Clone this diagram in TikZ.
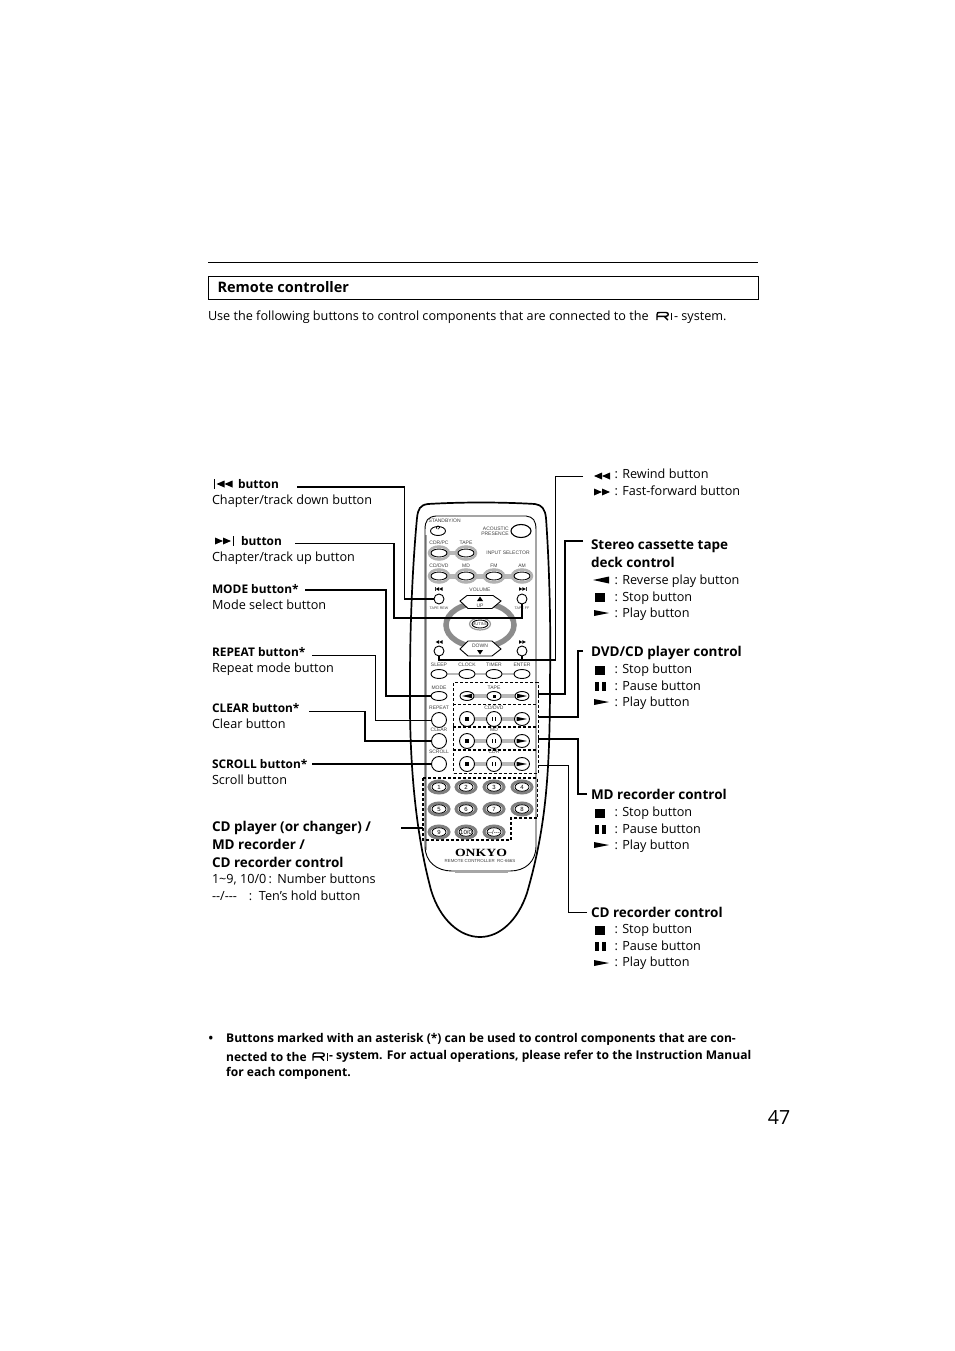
\documentclass[tikz,border=0pt]{standalone}
\usepackage{fontspec}
\setmainfont{Open Sans}
\newfontfamily\ctlfont{Liberation Sans}
\newfontfamily\logofont{Liberation Serif}
\usetikzlibrary{calc,shapes.geometric}
\tikzset{
 conThick/.style={line width=1.7pt},
 conThin/.style={line width=1pt},
 lbl/.style={anchor=north west,inner sep=0pt,outer sep=0pt,align=left,font=\fontsize{12.65}{16.2}\selectfont},
 head/.style={anchor=north west,inner sep=0pt,outer sep=0pt,align=left,font=\fontsize{13.5}{18}\selectfont\bfseries},
 notetxt/.style={anchor=west,inner sep=0pt,font=\fontsize{12.05}{16}\selectfont\bfseries},
 tiny/.style={inner sep=0pt,outer sep=0pt,align=center,font=\ctlfont\fontsize{5}{5.2}\selectfont,text=black!75},
 oval/.style={draw=black,line width=.9pt,fill=white,ellipse,inner sep=0pt,minimum width=#1},
 bar/.style={line width=3.5pt,black!28},
 dashbox/.style={draw=black,line width=1.4pt,dash pattern=on 3pt off 2pt},
}
\newcommand{\lb}[1]{{\fontsize{11.9}{16.2}\selectfont\bfseries #1}}
\newcommand{\playsym}[2]{\fill (#1-7,#2-3) -- (#1+8,#2) -- (#1-7,#2+3) -- cycle;}
\newcommand{\revsym}[2]{\fill (#1+8,#2-3.5) -- (#1-8,#2) -- (#1+8,#2+3.5) -- cycle;}
\newcommand{\stopsym}[2]{\fill (#1-5,#2-4.5) rectangle (#1+5,#2+4.5);}
\newcommand{\pausesym}[2]{\fill (#1-5.5,#2-4.5) rectangle (#1-1.5,#2+4.5);\fill (#1+1.5,#2-4.5) rectangle (#1+5.5,#2+4.5);}
\newcommand{\rewsym}[2]{\fill (#1,#2-3.5) -- (#1-8,#2) -- (#1,#2+3.5) -- cycle;\fill (#1+8,#2-3.5) -- (#1,#2) -- (#1+8,#2+3.5) -- cycle;}
\newcommand{\ffsym}[2]{\fill (#1-8,#2-3.5) -- (#1,#2) -- (#1-8,#2+3.5) -- cycle;\fill (#1,#2-3.5) -- (#1+8,#2) -- (#1,#2+3.5) -- cycle;}
\newcommand{\rilogo}[2]{\draw[line width=1.4pt] (#1,#2+4) -- (#1,#2-1.5) .. controls (#1,#2-3.5) and (#1+1,#2-3.5) .. (#1+3,#2-3.5) -- (#1+9,#2-3.5) .. controls (#1+12,#2-3.5) and (#1+12,#2+.3) .. (#1+9,#2+.3) -- (#1,#2+.3) (#1+7,#2+.3) -- (#1+11,#2+4);\draw[line width=1pt] (#1+14.5,#2-3.5) -- (#1+14.5,#2+4);}
\newcommand{\tri}[4]{\fill (#1,#2-#4) -- (#1+#3,#2) -- (#1,#2+#4) -- cycle;}
\begin{document}
\begin{tikzpicture}[x=1pt,y=-1pt]
\useasboundingbox (0,0) rectangle (954,1351);
\fill[white] (0,0) rectangle (954,1351);
% header
\coordinate (ruleL) at (208,262); \coordinate (ruleR) at (758,262);
\draw[line width=.9pt] (ruleL) -- (ruleR);
\node[draw,line width=.9pt,minimum width=549.8pt,minimum height=23pt,anchor=north west,inner sep=0pt] (titlebox) at (208,276) {};
\node[head,font=\fontsize{14.5}{18}\selectfont\bfseries,anchor=west] (title) at (217.5,287) {Remote controller};
\node[lbl,anchor=west] (intro) at (208,317.3) {Use the following buttons to control components that are connected to the};
\rilogo{657}{316}
\node[lbl,anchor=west] (introb) at (674,317.3) {\vphantom{Ug}- system.};

% remote body
\draw[line width=1.7pt,fill=white] (417,518)
 .. controls (418,509) and (420,505) .. (428,504)
 .. controls (462,502) and (500,502) .. (535,504)
 .. controls (542,505) and (545,509) .. (546,518)
 .. controls (549,560) and (551,620) .. (550,680)
 .. controls (550,780) and (545,830) .. (527,893)
 .. controls (518,920) and (500,937) .. (480,937)
 .. controls (460,937) and (440,920) .. (431,890)
 .. controls (415,830) and (409,760) .. (410,680)
 .. controls (410,620) and (413,560) .. (417,518) -- cycle;
\draw[line width=1.5pt,black!35] (426,535) -- (426,850);
\draw[line width=.9pt] (425,530) .. controls (425,520) and (428,517) .. (436,516) -- (526,516) .. controls (533,517) and (536,520) .. (536,530) -- (536,846) .. controls (536,862) and (525,871) .. (510,871) -- (452,871) .. controls (437,871) and (425,862) .. (425,846) -- cycle;
\draw[line width=1.5pt,black!35] (455,872) -- (508,872);

% top block
\node[tiny,anchor=west] (tStandby) at (428.5,520.5) {STANDBY/ON};
\node[oval=15pt,minimum height=9pt] (bStandby) at (438,531) {};
\draw[line width=.5pt] (438,529.3) arc (90:-240:1.8);
\node[tiny,align=right] (tAcoustic) at (495,531) {ACOUSTIC\\PRESENCE};
\node[oval=20pt,minimum height=13pt,line width=1.1pt] (bAcoustic) at (521,531) {};
\draw[bar,line width=4pt] (439,553) -- (466,553);
\draw[bar,line width=5pt] (439,576) -- (522,576);
\node[tiny] (tCdr) at (439,543) {CDR/PC};
\node[tiny] (tTape0) at (466,543) {TAPE};
\node[tiny] (tInput) at (508,553) {INPUT SELECTOR};
\draw[black!30,line width=2.5pt] (439,553) ellipse (10pt and 6.5pt);
\draw[black!30,line width=2.5pt] (466,553) ellipse (10pt and 6.5pt);
\node[oval=16pt,minimum height=8pt] (bCdr) at (439,553) {};
\node[oval=16pt,minimum height=8pt] (bTape0) at (466,553) {};
\foreach \n/\x/\t in {cddvd/439/{CD/DVD},md/466/MD,fm/494/FM,am/522/AM}{
 \node[tiny] (t\n) at (\x,566) {\t};
 \draw[black!30,line width=2.5pt] (\x,576) ellipse (10pt and 6.5pt);
 \node[oval=16pt,minimum height=8pt] (b\n) at (\x,576) {};
}
% skip buttons
\node[oval=10pt,minimum height=10pt] (bSkipD) at (439,599) {};
\node[oval=10pt,minimum height=10pt] (bSkipU) at (522,599) {};
\node[tiny,font=\ctlfont\fontsize{3.6}{4}\selectfont] (tRew) at (439,608) {TAPE REW};
\node[tiny,font=\ctlfont\fontsize{3.6}{4}\selectfont] (tFf) at (522,608) {TAPE FF};
\fill[black!80] (435,587) rectangle (435.6,591); \tri{439}{589}{-3.4}{1.8} \tri{442.5}{589}{-3.4}{1.8}
\fill[black!80] (525.8,587) rectangle (526.4,591); \tri{519}{589}{3.4}{1.8} \tri{522.4}{589}{3.4}{1.8}
\node[tiny] (tVol) at (480,589.5) {VOLUME};
% ring
\node[draw=black!45,line width=5.5pt,ellipse,minimum width=68pt,minimum height=44pt,inner sep=0pt,fill=white] (ring) at (480,625) {};
\node[draw=black!40,line width=1.2pt,ellipse,minimum width=21pt,minimum height=12pt,inner sep=0pt] (bMuteHalo) at (480,624) {};
\node[draw=black,fill=white,line width=.9pt,ellipse,minimum width=16pt,minimum height=8pt,inner sep=0pt] (bMute) at (480,624) {};
\node[tiny,font=\ctlfont\fontsize{4}{4}\selectfont] (tMute) at (480,624) {MUTING};
\draw[line width=.9pt,fill=white] (467,595.5) -- (493,595.5) -- (501,601) -- (492,608.5) -- (468,608.5) -- (460,601) -- cycle;
\fill (480,596.5) -- (483,601) -- (477,601) -- cycle;
\node[tiny] (tUp) at (480,605.5) {UP};
\draw[line width=.9pt,fill=white] (468,641) -- (492,641) -- (501,649) -- (492,656) -- (468,656) -- (460,649) -- cycle;
\fill (480,654.5) -- (483,650) -- (477,650) -- cycle;
\node[tiny] (tDown) at (480,645.5) {DOWN};
\node[oval=10pt,minimum height=10pt] (bPrev) at (439,651) {};
\node[oval=10pt,minimum height=10pt] (bNext) at (522,651) {};
\tri{439}{642}{-3.4}{1.8} \tri{442.5}{642}{-3.4}{1.8}
\tri{519}{642}{3.4}{1.8} \tri{522.4}{642}{3.4}{1.8}
% function row
\draw[bar,line width=2.5pt] (439,674) -- (522,674);
\foreach \n/\x/\t in {sleep/439/SLEEP,clock/467/CLOCK,timer/494/TIMER,enter/522/ENTER}{
 \node[tiny] (t\n) at (\x,665) {\t};
 \node[oval=16pt,minimum height=9pt] (b\n) at (\x,674) {};
}
\node[tiny] (tMode) at (439,688) {MODE};
\node[oval=16pt,minimum height=9pt] (bMode) at (439,696) {};
\node[tiny] (tRepeat) at (439,708) {REPEAT};
\node[oval=15pt,minimum height=15pt] (bRepeat) at (439,720) {};
\node[tiny] (tClear) at (439,730) {CLEAR};
\node[oval=15pt,minimum height=15pt] (bClear) at (439,741) {};
\node[tiny] (tScroll) at (439,752) {SCROLL};
\node[oval=15pt,minimum height=15pt] (bScroll) at (439,764) {};
% transport groups
\node[tiny] (tTape) at (494,688) {TAPE};
\node[tiny] (tCd) at (494,708) {CD/DVD};
\node[tiny] (tMd) at (494,730) {MD};
\node[tiny] (tCdr2) at (494,752) {CDR};
\draw[bar] (467,696) -- (522,696);
\draw[bar] (467,719) -- (522,719);
\draw[bar] (467,741) -- (522,741);
\draw[bar] (467,764) -- (522,764);
\node[oval=14pt,minimum height=9pt] (a1) at (467,696) {};
\node[oval=14pt,minimum height=9pt] (a2) at (494,696) {};
\node[oval=14pt,minimum height=9pt] (a3) at (522,696) {};
\fill (462,696) -- (472,693.8) -- (472,698.2) -- cycle;
\fill (492.5,694.5) rectangle (495.5,697.5);
\fill (517,693.8) -- (527,696) -- (517,698.2) -- cycle;
\foreach \r/\y in {b/719,c/741,d/764}{
 \node[oval=15pt,minimum height=15pt] (\r1) at (467,\y) {};
 \node[oval=15pt,minimum height=15pt] (\r2) at (494,\y) {};
 \node[oval=15pt,minimum height=13pt] (\r3) at (522,\y) {};
 \fill (465.3,\y-1.7) rectangle (468.7,\y+1.7);
 \fill (492,\y-2) rectangle (493.4,\y+2); \fill (494.6,\y-2) rectangle (496,\y+2);
 \fill (516.5,\y-2.2) -- (527,\y) -- (516.5,\y+2.2) -- cycle;
}
% dashed boxes
\node[dashbox,minimum width=84.5pt,minimum height=90.5pt,inner sep=0pt,anchor=north west,fill=none] (dashAll) at (453,682) {};
\coordinate (s1L) at (453,704.5); \coordinate (s1R) at (537.5,704.5);
\coordinate (s2L) at (453,727); \coordinate (s2R) at (537.5,727);
\coordinate (s3L) at (453,750); \coordinate (s3R) at (537.5,750);
\draw[dashbox] (s1L) -- (s1R); \draw[dashbox] (s2L) -- (s2R); \draw[dashbox] (s3L) -- (s3R);
% numbers
\coordinate (n1) at (423,778); \coordinate (n2) at (537.5,778); \coordinate (n3) at (537.5,818); \coordinate (n4) at (511,818); \coordinate (n5) at (511,840); \coordinate (n6) at (423,840);
\draw[dashbox] (n1) -- (n2) -- (n3) -- (n4) -- (n5) -- (n6) -- cycle;
\foreach \n/\x/\y in {1/439/787,2/466/787,3/494/787,4/522/787,5/439/809,6/466/809,7/494/809,8/522/809,9/439/832,10/466/832,11/494/832}{
 \draw[black!50,line width=3pt] (\x,\y) ellipse (10pt and 6pt);
 \node[draw=black,line width=.8pt,ellipse,fill=white,minimum width=14pt,minimum height=8.5pt,inner sep=0pt] (k\n) at (\x,\y) {};
}
\foreach \n/\t in {1/1,2/2,3/3,4/4,5/5,6/6,7/7,8/8,9/9,10/{10/0},11/{{-}{-}/{-}{-}{-}}}{
 \node[tiny,text=black,font=\ctlfont\fontsize{6}{6}\selectfont] (kt\n) at (k\n) {\t};
}
\node[inner sep=0pt,font=\logofont\fontsize{11}{11}\selectfont\bfseries] (onkyo) at (481,852.5) {\scalebox{1.25}[1]{ONKYO}};
\node[tiny,font=\ctlfont\fontsize{4.4}{5}\selectfont] (tModel) at (480,860.5) {REMOTE CONTROLLER\ \ RC-666S};

% labels left
\node[lbl] (l1) at (212,479.3) {\hspace*{26pt}\lb{button}\\Chapter/track down button};
\fill (214,479) rectangle (215.2,489); \rewsym{224.5}{484}
\node[lbl] (l2) at (212,536.3) {\hspace*{29pt}\lb{button}\\Chapter/track up button};
\fill (232.5,536) rectangle (233.7,546); \ffsym{223}{541}
\node[lbl] (l3) at (212,584.3) {\lb{MODE button*}\\Mode select button};
\node[lbl] (l4) at (212,647.3) {\lb{REPEAT button*}\\Repeat mode button};
\node[lbl] (l5) at (212,703.3) {\lb{CLEAR button*}\\Clear button};
\node[lbl] (l6) at (212,759.3) {\lb{SCROLL button*}\\Scroll button};
\node[head] (l7) at (212,821) {CD player (or changer) /\\MD recorder /\\CD recorder control};
\node[lbl] (l7a) at (212,874.3) {1\char`\~9, 10/0\,:\ \,Number buttons\\{-}{-}/{-}{-}{-}\ \ \ \,:\ \ Ten’s hold button};

% labels right
\rewsym{602}{476}
\ffsym{602}{492}
\node[lbl] (r1) at (614.5,469.3) {: Rewind button\\: Fast-forward button};
\node[head] (r2) at (591,540) {Stereo cassette tape\\deck control};
\revsym{601}{580}\stopsym{600}{597}\playsym{601}{613}
\node[lbl] (r2a) at (614.5,575.3) {: Reverse play button\\: Stop button\\: Play button};
\node[head] (r3) at (591,646) {DVD/CD player control};
\stopsym{600}{670}\pausesym{600}{686}\playsym{601}{702}
\node[lbl] (r3a) at (614.5,664.3) {: Stop button\\: Pause button\\: Play button};
\node[head] (r4) at (591,789) {MD recorder control};
\stopsym{600}{813}\pausesym{600}{829}\playsym{601}{845}
\node[lbl] (r4a) at (614.5,807.3) {: Stop button\\: Pause button\\: Play button};
\node[head] (r5) at (591,907) {CD recorder control};
\stopsym{600}{930}\pausesym{600}{946}\playsym{601}{963}
\node[lbl] (r5a) at (614.5,924.3) {: Stop button\\: Pause button\\: Play button};

% connectors
\coordinate (c1) at (297,487); \draw[conThick] (c1) -- (404.5,487) |- (bSkipD.west);
\coordinate (c2) at (295,543.5); \draw[conThick] (c2) -- (394,543.5) -- (394,618) -- (522,618) -- (bSkipU.south);
\coordinate (c3) at (305,590); \draw[conThick] (c3) -- (386,590) -- (386,696) -- (bMode.west);
\coordinate (c4) at (312,655); \draw[conThin] (c4) -- (375,655) -- (375,720) -- (bRepeat.west);
\coordinate (c5) at (309,711.5); \draw[conThick] (c5) -- (365,711.5) -- (365,741) -- (bClear.west);
\coordinate (c6) at (312,764); \draw[conThick] (c6) -- (bScroll.west);
\coordinate (c7) at (401,828); \coordinate (c7e) at (423,828); \draw[conThick] (c7) -- (c7e);
\coordinate (c8) at (583,476); \draw[conThin] (c8) -- (555,476) -- (555,660) -- (522,660);
\draw[conThick] (555,660) -- (439,660) -- (bPrev.south);
\draw[conThick] (522,660) -- (bNext.south);
\coordinate (c9) at (583,541); \draw[conThick] (c9) -- (565,541) -- (565,694) -- (538,694);
\coordinate (c10) at (583,651); \draw[conThick] (c10) -- (578,651) -- (578,717) -- (538,717);
\coordinate (c11) at (587,794); \draw[conThick] (c11) -- (578,794) -- (578,739) -- (538,739);
\coordinate (c12) at (587,912); \draw[conThin] (c12) -- (568,912) -- (568,765) -- (538,765);

% note
\node[notetxt] (bul) at (208.5,1039) {•};
\node[notetxt] (n1t) at (226,1039) {Buttons marked with an asterisk (*) can be used to control components that are con-};
\node[notetxt] (n2t) at (226,1056.5) {nected to the};
\rilogo{313}{1056.5}
\node[notetxt] (n2u) at (329,1056.5) {- system. For actual operations, please refer to the Instruction Manual};
\node[notetxt] (n3t) at (226,1073.5) {for each component.};
\node[inner sep=0pt,font=\fontsize{19.5}{22}\selectfont] (pg) at (779,1117.5) {47};
\end{tikzpicture}
\end{document}
